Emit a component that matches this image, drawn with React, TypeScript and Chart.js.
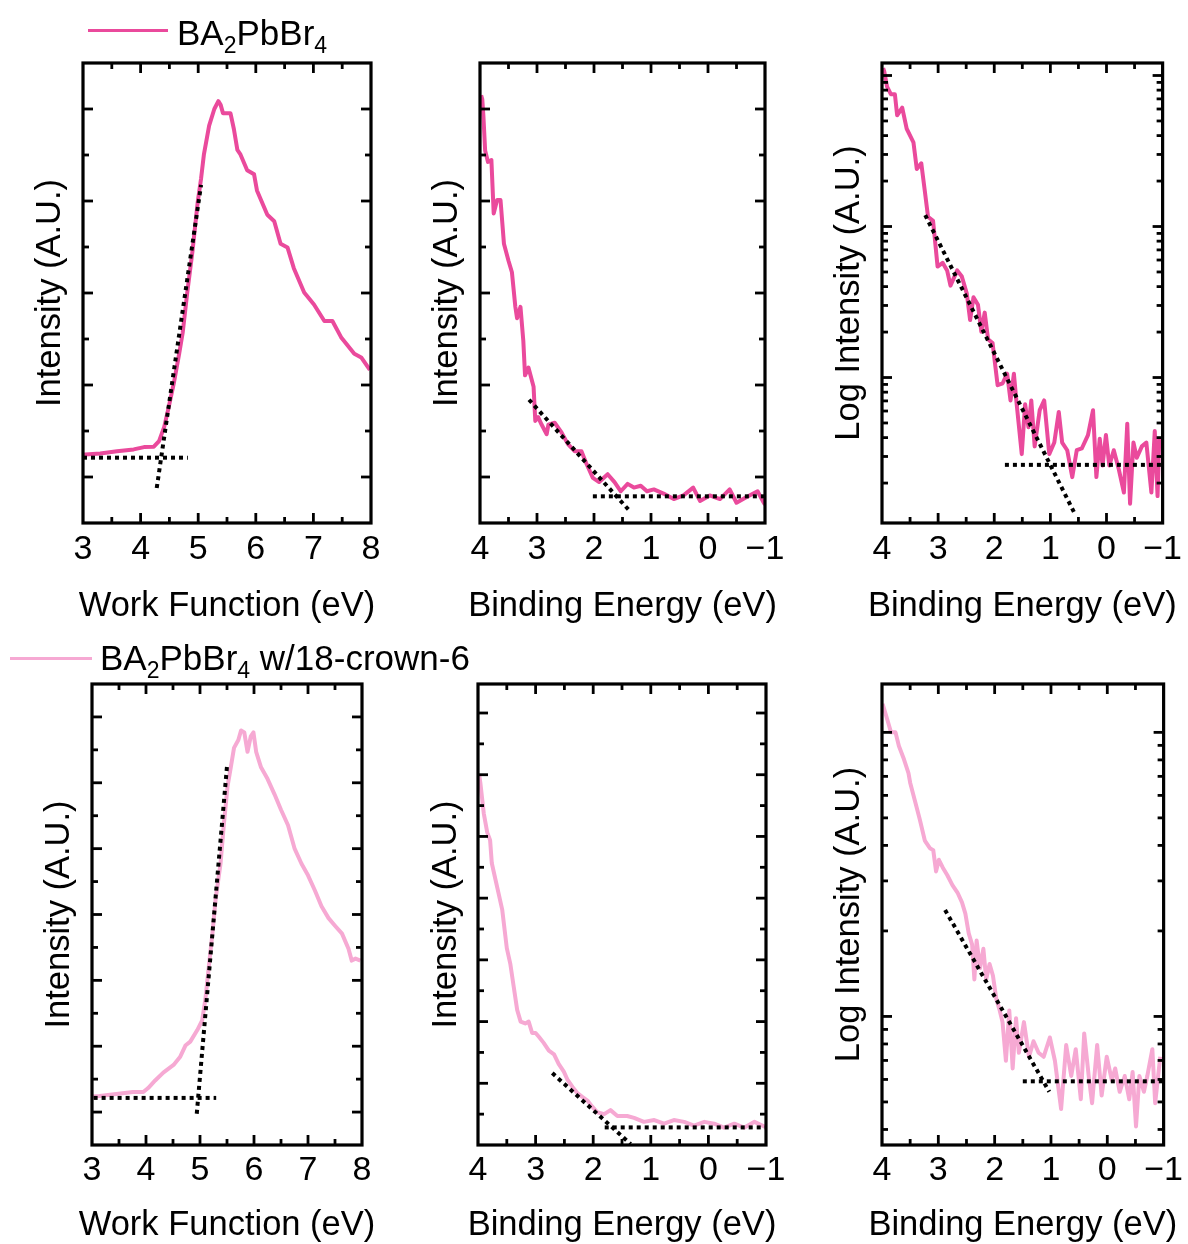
import React, { useEffect, useRef } from "react";
import { Chart, registerables } from "chart.js";

Chart.register(...registerables);

const FONT = '"Liberation Sans", Arial, sans-serif';
const PINK = "#EA4A9C";
const LIGHT_PINK = "#F6A9D3";

// ---------------- tick labels ----------------
const wfTicks = [3, 4, 5, 6, 7, 8];
const wfMinor = [3.5, 4.5, 5.5, 6.5, 7.5];
const beTicks = [4, 3, 2, 1, 0, -1];
const beMinor = [3.5, 2.5, 1.5, 0.5, -0.5];
const lin10Major = [1, 3, 5, 7, 9];
const lin10Minor = [2, 4, 6, 8];
const lin14Major = [1, 3, 5, 7, 9, 11, 13];
const lin14Minor = [2, 4, 6, 8, 10, 12];
const lin15Major = [2, 4, 6, 8, 10, 12, 14];
const lin15Minor = [1, 3, 5, 7, 9, 11, 13];
const logMajor = [0.1, 1, 10, 100];
const logMinor = [0.2, 0.3, 0.4, 0.5, 0.6, 0.7, 0.8, 0.9, 2, 3, 4, 5, 6, 7, 8, 9, 20, 30, 40, 50, 60, 70, 80, 90];

// ---------------- BA2PbBr4 : work function ----------------
const wfAX = [3.0, 3.04, 3.3, 3.59, 3.88, 4.06, 4.23, 4.32, 4.41, 4.49, 4.58, 4.67, 4.73, 4.81, 4.9, 4.99, 5.05, 5.1, 5.19, 5.28, 5.35, 5.39, 5.43, 5.56, 5.62, 5.68, 5.73, 5.85, 5.97, 6.02, 6.2, 6.32, 6.43, 6.55, 6.66, 6.84, 7.01, 7.19, 7.33, 7.48, 7.71, 7.83, 7.98];
const wfAY = [1.47, 1.49, 1.51, 1.56, 1.6, 1.65, 1.66, 1.78, 2.09, 2.53, 3.06, 3.68, 4.13, 5.01, 5.9, 6.96, 7.49, 8.02, 8.64, 9.0, 9.17, 9.09, 8.91, 8.91, 8.56, 8.11, 8.02, 7.67, 7.58, 7.23, 6.7, 6.56, 6.07, 5.99, 5.54, 5.01, 4.75, 4.39, 4.39, 4.04, 3.68, 3.6, 3.33];
const wfAFitBaseX = [3.0, 4.82];
const wfAFitBaseY = [1.42, 1.42];
const wfAFitEdgeX = [4.28, 5.05];
const wfAFitEdgeY = [0.76, 7.35];

// ---------------- BA2PbBr4 : binding energy (linear) ----------------
const beAX = [3.98, 3.96, 3.94, 3.91, 3.86, 3.8, 3.76, 3.7, 3.64, 3.58, 3.5, 3.44, 3.38, 3.35, 3.29, 3.24, 3.21, 3.15, 3.06, 3.03, 2.98, 2.92, 2.83, 2.8, 2.69, 2.57, 2.46, 2.34, 2.22, 2.14, 2.02, 1.91, 1.76, 1.64, 1.53, 1.41, 1.3, 1.18, 1.07, 0.95, 0.78, 0.6, 0.43, 0.26, 0.14, -0.03, -0.21, -0.38, -0.5, -0.67, -0.87, -0.96, -1.0];
const beAY = [9.3, 9.21, 8.84, 8.1, 7.85, 7.89, 6.73, 7.02, 7.02, 6.07, 5.7, 5.45, 4.7, 4.45, 4.7, 3.96, 3.21, 3.38, 2.96, 2.22, 2.3, 2.14, 1.93, 2.14, 2.18, 1.97, 1.72, 1.56, 1.56, 1.31, 0.98, 0.89, 1.06, 0.89, 0.69, 0.85, 0.77, 0.81, 0.69, 0.73, 0.64, 0.52, 0.6, 0.77, 0.48, 0.6, 0.52, 0.73, 0.44, 0.56, 0.69, 0.48, 0.4];
const beAFitSlopeX = [3.14, 1.38];
const beAFitSlopeY = [2.68, 0.27];
const beAFitBaseX = [2.02, -1.0];
const beAFitBaseY = [0.58, 0.58];

// ---------------- BA2PbBr4 : binding energy (log) ----------------
const logAX = [3.98, 3.96, 3.91, 3.84, 3.77, 3.73, 3.64, 3.56, 3.44, 3.38, 3.3, 3.24, 3.18, 3.09, 3.01, 2.92, 2.84, 2.78, 2.66, 2.58, 2.49, 2.43, 2.37, 2.29, 2.23, 2.17, 2.11, 2.03, 1.94, 1.85, 1.77, 1.71, 1.65, 1.6, 1.51, 1.45, 1.39, 1.34, 1.28, 1.19, 1.11, 1.02, 0.93, 0.85, 0.79, 0.7, 0.61, 0.53, 0.44, 0.33, 0.24, 0.18, 0.12, 0.07, 0.01, -0.05, -0.13, -0.22, -0.31, -0.37, -0.42, -0.48, -0.54, -0.63, -0.71, -0.8, -0.86, -0.91, -0.94];
const logAY = [112, 106.4, 84.3, 75.0, 75.0, 54.5, 61.2, 44.4, 36.1, 24.0, 26.2, 17.5, 11.6, 10.9, 5.43, 5.75, 5.12, 4.06, 5.12, 4.69, 3.61, 2.4, 3.4, 3.03, 2.01, 2.69, 1.79, 1.69, 0.889, 0.916, 1.06, 0.705, 1.06, 0.665, 0.311, 0.665, 0.468, 0.705, 0.35, 0.608, 0.705, 0.311, 0.371, 0.592, 0.371, 0.33, 0.219, 0.33, 0.339, 0.416, 0.608, 0.219, 0.393, 0.261, 0.416, 0.261, 0.33, 0.246, 0.173, 0.495, 0.146, 0.371, 0.294, 0.35, 0.371, 0.173, 0.442, 0.164, 0.393];
const logAFitSlopeX = [3.23, 0.55];
const logAFitSlopeY = [11.9, 0.122];
const logAFitBaseX = [1.81, -1.0];
const logAFitBaseY = [0.264, 0.264];

// ---------------- w/18-crown-6 : work function ----------------
const wfBX = [3.0, 3.14, 3.45, 3.76, 3.95, 4.04, 4.17, 4.32, 4.51, 4.63, 4.73, 4.82, 4.95, 5.04, 5.1, 5.16, 5.23, 5.29, 5.38, 5.44, 5.51, 5.57, 5.63, 5.71, 5.76, 5.82, 5.88, 5.94, 5.99, 6.04, 6.13, 6.25, 6.38, 6.5, 6.63, 6.75, 6.88, 7.0, 7.13, 7.25, 7.38, 7.5, 7.63, 7.75, 7.81, 7.88, 7.97];
const wfBY = [1.47, 1.49, 1.55, 1.61, 1.61, 1.73, 1.96, 2.2, 2.43, 2.67, 3.02, 3.14, 3.49, 3.78, 4.43, 5.37, 6.42, 7.48, 8.54, 9.71, 10.89, 11.47, 12.06, 12.3, 12.59, 12.53, 11.94, 12.41, 12.53, 11.94, 11.47, 11.12, 10.65, 10.18, 9.71, 9.01, 8.54, 8.19, 7.72, 7.25, 6.89, 6.66, 6.42, 5.96, 5.6, 5.66, 5.6];
const wfBFitBaseX = [3.03, 5.3];
const wfBFitBaseY = [1.43, 1.43];
const wfBFitEdgeX = [4.94, 5.5];
const wfBFitEdgeY = [0.95, 11.5];

// ---------------- w/18-crown-6 : binding energy (linear) ----------------
const beBX = [3.98, 3.96, 3.9, 3.84, 3.79, 3.76, 3.7, 3.64, 3.58, 3.5, 3.44, 3.38, 3.32, 3.26, 3.18, 3.12, 3.06, 3.0, 2.94, 2.86, 2.77, 2.68, 2.6, 2.51, 2.45, 2.36, 2.28, 2.19, 2.1, 2.02, 1.93, 1.81, 1.7, 1.58, 1.41, 1.29, 1.12, 0.94, 0.77, 0.6, 0.42, 0.25, 0.07, -0.1, -0.27, -0.45, -0.62, -0.8, -0.97, -1.0];
const beBY = [12.0, 11.75, 10.75, 10.13, 9.88, 9.13, 8.63, 8.13, 7.63, 6.38, 5.88, 5.13, 4.38, 4.0, 3.94, 4.0, 3.63, 3.63, 3.5, 3.31, 3.06, 2.94, 2.63, 2.38, 2.13, 1.88, 1.69, 1.56, 1.44, 1.25, 1.06, 1.0, 1.13, 0.94, 0.94, 0.88, 0.75, 0.81, 0.69, 0.81, 0.75, 0.63, 0.75, 0.69, 0.56, 0.69, 0.56, 0.75, 0.6, 0.62];
const beBFitSlopeX = [2.71, 1.35];
const beBFitSlopeY = [2.33, 0.03];
const beBFitBaseX = [1.8, -1.0];
const beBFitBaseY = [0.57, 0.57];

// ---------------- w/18-crown-6 : binding energy (log) ----------------
const logBX = [3.99, 3.96, 3.9, 3.84, 3.76, 3.7, 3.61, 3.53, 3.5, 3.41, 3.33, 3.24, 3.15, 3.09, 3.04, 2.99, 2.92, 2.84, 2.75, 2.66, 2.58, 2.52, 2.46, 2.4, 2.36, 2.32, 2.26, 2.2, 2.15, 2.09, 2.03, 1.97, 1.91, 1.86, 1.8, 1.74, 1.68, 1.62, 1.57, 1.48, 1.39, 1.31, 1.22, 1.13, 1.02, 0.93, 0.82, 0.73, 0.64, 0.56, 0.47, 0.41, 0.33, 0.27, 0.18, 0.1, 0.01, -0.08, -0.14, -0.22, -0.31, -0.39, -0.45, -0.51, -0.57, -0.65, -0.71, -0.8, -0.85, -0.94];
const logBY = [12.6, 12.05, 10.99, 10.0, 10.0, 8.95, 8.04, 7.19, 6.65, 5.69, 4.94, 4.16, 3.91, 3.85, 3.24, 3.56, 3.34, 3.14, 2.9, 2.73, 2.52, 2.3, 1.96, 1.79, 1.35, 1.85, 1.48, 1.73, 1.35, 1.53, 1.39, 1.15, 1.05, 0.955, 0.698, 1.05, 0.656, 0.986, 0.745, 0.955, 0.721, 0.818, 0.745, 0.721, 0.843, 0.698, 0.472, 0.793, 0.617, 0.767, 0.511, 0.871, 0.617, 0.495, 0.793, 0.527, 0.721, 0.597, 0.656, 0.543, 0.617, 0.511, 0.637, 0.41, 0.617, 0.543, 0.617, 0.767, 0.495, 0.721];
const logBFitSlopeX = [2.88, 1.03];
const logBFitSlopeY = [2.37, 0.543];
const logBFitBaseX = [1.5, -1.0];
const logBFitBaseY = [0.591, 0.591];

type Fit = { x: number[]; y: number[] };
type PanelSpec = {
  left: number; top: number; width: number; height: number;
  yWidth: number; padTop: number; padRight: number; xHeight: number;
  xMin: number; xMax: number; reverse: boolean; xMajor: number[]; xMinor: number[];
  yType: "linear" | "logarithmic"; yMin: number; yMax: number; yMajor: number[]; yMinor: number[];
  xTitle: string; yTitle: string; yTitlePad: number; xTitleOffset: number; tickPad: number;
  curveX: number[]; curveY: number[]; color: string; fits: Fit[];
};

const TITLE_SIZE = 34.5;
const TICK_SIZE = 34;
const HALF_TITLE = TITLE_SIZE / 2;

const TOP = { top: 40, height: 590, padTop: 23, xHeight: 107, xTitleOffset: 83.5, tickPad: 6 };
const BOT = { top: 670, height: 574, padTop: 14, xHeight: 99, xTitleOffset: 80.5, tickPad: 5 };

const panels: PanelSpec[] = [
  {
    left: 0, width: 400, ...TOP, yWidth: 83, padRight: 29,
    xMin: 3, xMax: 8, reverse: false, xMajor: wfTicks, xMinor: wfMinor,
    yType: "linear", yMin: 0, yMax: 10, yMajor: lin10Major, yMinor: lin10Minor,
    xTitle: "Work Function (eV)", yTitle: "Intensity (A.U.)", yTitlePad: 50 - HALF_TITLE,
    curveX: wfAX, curveY: wfAY, color: PINK,
    fits: [{ x: wfAFitBaseX, y: wfAFitBaseY }, { x: wfAFitEdgeX, y: wfAFitEdgeY }],
  },
  {
    left: 400, width: 395, ...TOP, yWidth: 80, padRight: 30,
    xMin: -1, xMax: 4, reverse: true, xMajor: beTicks, xMinor: beMinor,
    yType: "linear", yMin: 0, yMax: 10, yMajor: lin10Major, yMinor: lin10Minor,
    xTitle: "Binding Energy (eV)", yTitle: "Intensity (A.U.)", yTitlePad: 47 - HALF_TITLE,
    curveX: beAX, curveY: beAY, color: PINK,
    fits: [{ x: beAFitSlopeX, y: beAFitSlopeY }, { x: beAFitBaseX, y: beAFitBaseY }],
  },
  {
    left: 795, width: 393, ...TOP, yWidth: 87, padRight: 19,
    xMin: -1, xMax: 4, reverse: true, xMajor: beTicks, xMinor: beMinor,
    yType: "logarithmic", yMin: 0.1088, yMax: 121, yMajor: logMajor, yMinor: logMinor,
    xTitle: "Binding Energy (eV)", yTitle: "Log Intensity (A.U.)", yTitlePad: 54 - HALF_TITLE,
    curveX: logAX, curveY: logAY, color: PINK,
    fits: [{ x: logAFitSlopeX, y: logAFitSlopeY }, { x: logAFitBaseX, y: logAFitBaseY }],
  },
  {
    left: 0, width: 400, ...BOT, yWidth: 92, padRight: 38,
    xMin: 3, xMax: 8, reverse: false, xMajor: wfTicks, xMinor: wfMinor,
    yType: "linear", yMin: 0, yMax: 14, yMajor: lin14Major, yMinor: lin14Minor,
    xTitle: "Work Function (eV)", yTitle: "Intensity (A.U.)", yTitlePad: 59 - HALF_TITLE,
    curveX: wfBX, curveY: wfBY, color: LIGHT_PINK,
    fits: [{ x: wfBFitBaseX, y: wfBFitBaseY }, { x: wfBFitEdgeX, y: wfBFitEdgeY }],
  },
  {
    left: 400, width: 395, ...BOT, yWidth: 78, padRight: 29,
    xMin: -1, xMax: 4, reverse: true, xMajor: beTicks, xMinor: beMinor,
    yType: "linear", yMin: 0, yMax: 14.94, yMajor: lin15Major, yMinor: lin15Minor,
    xTitle: "Binding Energy (eV)", yTitle: "Intensity (A.U.)", yTitlePad: 46 - HALF_TITLE,
    curveX: beBX, curveY: beBY, color: LIGHT_PINK,
    fits: [{ x: beBFitSlopeX, y: beBFitSlopeY }, { x: beBFitBaseX, y: beBFitBaseY }],
  },
  {
    left: 795, width: 393, ...BOT, yWidth: 87, padRight: 19,
    xMin: -1, xMax: 4, reverse: true, xMajor: beTicks, xMinor: beMinor,
    yType: "logarithmic", yMin: 0.3527, yMax: 14.8, yMajor: logMajor, yMinor: logMinor,
    xTitle: "Binding Energy (eV)", yTitle: "Log Intensity (A.U.)", yTitlePad: 54 - HALF_TITLE,
    curveX: logBX, curveY: logBY, color: LIGHT_PINK,
    fits: [{ x: logBFitSlopeX, y: logBFitSlopeY }, { x: logBFitBaseX, y: logBFitBaseY }],
  },
];

function framePlugin(spec: PanelSpec) {
  return {
    id: "frameTicks",
    afterDatasetsDraw(chart: any) {
      const { ctx, chartArea: a, scales } = chart;
      const sx = scales.x;
      const sy = scales.y;
      ctx.save();
      ctx.strokeStyle = "#000";
      ctx.lineCap = "butt";
      ctx.lineWidth = 2.8;
      const seg = (x1: number, y1: number, x2: number, y2: number) => {
        ctx.beginPath();
        ctx.moveTo(x1, y1);
        ctx.lineTo(x2, y2);
        ctx.stroke();
      };
      const inX = (v: number) => v > spec.xMin && v < spec.xMax;
      const inY = (v: number) => v > spec.yMin && v < spec.yMax;
      spec.xMajor.filter(inX).forEach((v) => {
        const p = sx.getPixelForValue(v);
        seg(p, a.bottom, p, a.bottom - 10);
        seg(p, a.top, p, a.top + 10);
      });
      spec.xMinor.filter(inX).forEach((v) => {
        const p = sx.getPixelForValue(v);
        seg(p, a.bottom, p, a.bottom - 6);
        seg(p, a.top, p, a.top + 6);
      });
      spec.yMajor.filter(inY).forEach((v) => {
        const p = sy.getPixelForValue(v);
        seg(a.left, p, a.left + 10, p);
        seg(a.right, p, a.right - 10, p);
      });
      spec.yMinor.filter(inY).forEach((v) => {
        const p = sy.getPixelForValue(v);
        seg(a.left, p, a.left + 6, p);
        seg(a.right, p, a.right - 6, p);
      });
      ctx.lineWidth = 3.2;
      ctx.strokeRect(a.left, a.top, a.right - a.left, a.bottom - a.top);
      // x-axis title (drawn here so it is not squeezed to the axis width)
      ctx.fillStyle = "#000";
      ctx.font = `${TITLE_SIZE}px ${FONT}`;
      ctx.textAlign = "center";
      ctx.textBaseline = "middle";
      ctx.fillText(spec.xTitle, (a.left + a.right) / 2, a.bottom + spec.xTitleOffset);
      ctx.restore();
    },
  };
}

function fmt(v: number) {
  return v < 0 ? "\u2212" + Math.abs(v) : String(v);
}

function Panel({ spec }: { spec: PanelSpec }) {
  const ref = useRef<HTMLCanvasElement>(null);
  useEffect(() => {
    const datasets: any[] = spec.fits.map((f) => ({
      data: f.x.map((x, i) => ({ x, y: f.y[i] })),
      borderColor: "#000",
      borderWidth: 4,
      borderDash: [4, 4],
      pointRadius: 0,
      fill: false,
      order: 0,
    }));
    datasets.push({
      data: spec.curveX.map((x, i) => ({ x, y: spec.curveY[i] })),
      borderColor: spec.color,
      borderWidth: 4,
      pointRadius: 0,
      fill: false,
      tension: 0,
      borderJoinStyle: "round",
      order: 1,
    });
    const chart = new Chart(ref.current as HTMLCanvasElement, {
      type: "line",
      data: { datasets },
      options: {
        animation: false,
        responsive: false,
        maintainAspectRatio: false,
        events: [],
        layout: { padding: { left: 0, top: spec.padTop, right: spec.padRight, bottom: 0 } },
        plugins: { legend: { display: false }, tooltip: { enabled: false } },
        scales: {
          x: {
            type: "linear",
            position: "bottom",
            min: spec.xMin,
            max: spec.xMax,
            reverse: spec.reverse,
            afterBuildTicks: (s: any) => {
              s.ticks = spec.xMajor.map((v) => ({ value: v }));
            },
            afterFit: (s: any) => {
              s.height = spec.xHeight;
            },
            grid: { display: false, drawTicks: false },
            border: { display: false },
            ticks: {
              color: "#000",
              font: { family: FONT, size: TICK_SIZE, lineHeight: 1.2 },
              padding: spec.tickPad,
              maxRotation: 0,
              autoSkip: false,
              callback: (v: any) => fmt(Number(v)),
            },
            title: { display: false },
          },
          y: {
            type: spec.yType,
            min: spec.yMin,
            max: spec.yMax,
            afterFit: (s: any) => {
              s.width = spec.yWidth;
            },
            grid: { display: false, drawTicks: false },
            border: { display: false },
            ticks: { display: false },
            title: {
              display: true,
              text: spec.yTitle,
              color: "#000",
              font: { family: FONT, size: TITLE_SIZE, lineHeight: 1 },
              padding: { top: spec.yTitlePad, bottom: 0 },
            },
          },
        } as any,
      },
      plugins: [framePlugin(spec)],
    } as any);
    return () => chart.destroy();
  }, []);
  return (
    <canvas
      ref={ref}
      width={spec.width}
      height={spec.height}
      style={{ position: "absolute", left: spec.left, top: spec.top, width: spec.width, height: spec.height }}
    />
  );
}

const subStyle: React.CSSProperties = { fontSize: 23, position: "relative", top: 8 };

export default function App() {
  return (
    <div style={{ position: "absolute", left: 0, top: 0, width: 1188, height: 1244, background: "#fff", overflow: "hidden", fontFamily: FONT }}>
      {panels.map((p, i) => (
        <Panel key={i} spec={p} />
      ))}
      <div style={{ position: "absolute", left: 88, top: 29, width: 80, height: 3, background: PINK, zIndex: 2 }} />
      <div style={{ position: "absolute", left: 177, top: 13, fontSize: 35, lineHeight: "40px", whiteSpace: "nowrap", color: "#000", zIndex: 2 }}>
        BA<span style={subStyle}>2</span>PbBr<span style={subStyle}>4</span>
      </div>
      <div style={{ position: "absolute", left: 10, top: 657, width: 82, height: 3, background: LIGHT_PINK, zIndex: 2 }} />
      <div style={{ position: "absolute", left: 100, top: 638, fontSize: 35, lineHeight: "40px", whiteSpace: "nowrap", color: "#000", zIndex: 2 }}>
        BA<span style={subStyle}>2</span>PbBr<span style={subStyle}>4</span> w/18-crown-6
      </div>
    </div>
  );
}
